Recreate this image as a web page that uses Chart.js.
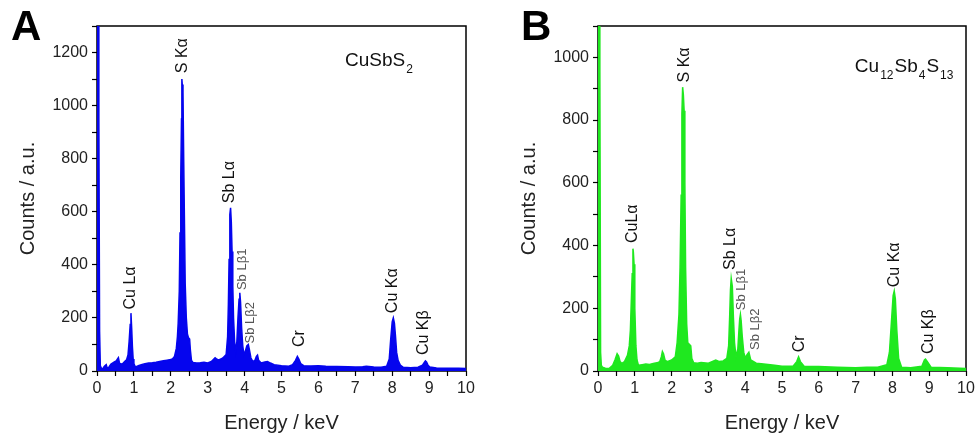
<!DOCTYPE html>
<html>
<head>
<meta charset="utf-8">
<script src="https://cdn.jsdelivr.net/npm/chart.js@4"></script>
<style>
  body { margin: 0; background: #fff; }
  .wrap { position: absolute; top: 0; }
</style>
</head>
<body>
<div class="wrap" style="left:0"><canvas id="chartA" width="490" height="439"></canvas></div>
<div class="wrap" style="left:490px"><canvas id="chartB" width="489" height="439"></canvas></div>
<script>
// EDX spectrum A: CuSbS2 (energy in keV, counts)
var energyA = [
  0, 0.03, 0.05, 0.07, 0.09, 0.12, 0.15, 0.2, 0.25, 0.28, 0.32, 0.38, 0.42, 0.47, 0.52, 0.56, 0.58, 0.61, 0.65,
  0.7, 0.75, 0.8, 0.84, 0.87, 0.9, 0.92, 0.94, 0.96, 0.98, 1.0, 1.03, 1.07, 1.12, 1.2, 1.3, 1.4, 1.5, 1.6, 1.7,
  1.8, 1.9, 2.0, 2.05, 2.1, 2.15, 2.18, 2.2, 2.23, 2.25, 2.27, 2.29, 2.3, 2.31, 2.33, 2.35, 2.37, 2.39, 2.42,
  2.45, 2.48, 2.51, 2.53, 2.56, 2.6, 2.7, 2.8, 2.9, 3.0, 3.1, 3.2, 3.25, 3.3, 3.4, 3.45, 3.5, 3.54, 3.56,
  3.58, 3.6, 3.62, 3.64, 3.66, 3.68, 3.7, 3.73, 3.76, 3.79, 3.82, 3.85, 3.87, 3.89, 3.92, 3.95, 3.98, 4.02, 4.06, 4.1,
  4.13, 4.17, 4.22, 4.28, 4.32, 4.35, 4.38, 4.45, 4.55, 4.62, 4.7, 4.8, 5.0, 5.2, 5.3, 5.38, 5.43, 5.47, 5.52, 5.6, 5.8,
  6.0, 6.2, 6.5, 6.8, 7.0, 7.2, 7.3, 7.5, 7.7, 7.85, 7.92, 7.96, 8.0, 8.03, 8.06, 8.09, 8.12, 8.16, 8.22, 8.3,
  8.5, 8.7, 8.82, 8.87, 8.9, 8.93, 8.97, 9.02, 9.2, 9.5, 9.8, 10
];
var countsA = [
  1400, 1400, 960, 150, 20, 10, 8, 18, 24, 10, 14, 26, 30, 34, 38, 46, 50, 30, 26,
  28, 36, 42, 60, 110, 175, 218, 160, 90, 45, 28, 18, 16, 20, 24, 27, 30, 31, 33, 36,
  39, 41, 43, 46, 55, 85, 130, 180, 300, 520, 730, 950, 1100, 1080, 1050, 790, 560, 330, 200,
  140, 125, 120, 80, 40, 32, 30, 31, 33, 30, 36, 50, 44, 42, 48, 55, 62, 130, 250,
  420, 590, 615, 560, 450, 320, 200, 110, 75, 110, 200, 270, 295, 260, 160, 95, 62, 75, 95, 100,
  80, 50, 36, 40, 55, 60, 40, 30, 34, 36, 30, 24, 20, 18, 24, 40, 55, 45, 28, 20, 19,
  20, 18, 17, 16, 15, 16, 18, 15, 14, 18, 45, 120, 185, 200, 180, 130, 70, 40, 22, 14,
  12, 14, 22, 32, 38, 34, 22, 15, 11, 10, 10, 9
];

// EDX spectrum B: Cu12Sb4S13
var energyB = [
  0, 0.03, 0.05, 0.07, 0.09, 0.12, 0.2, 0.3, 0.4, 0.46, 0.52, 0.56, 0.6, 0.65, 0.72, 0.8, 0.85, 0.88, 0.91,
  0.93, 0.95, 0.96, 0.98, 1.0, 1.03, 1.06, 1.1, 1.2, 1.3, 1.4, 1.5, 1.6, 1.68, 1.72, 1.75, 1.78, 1.82, 1.88,
  2.0, 2.1, 2.15, 2.2, 2.23, 2.26, 2.28, 2.3, 2.32, 2.34, 2.36, 2.38, 2.41, 2.44, 2.48, 2.52, 2.55, 2.6, 2.7,
  2.8, 3.0, 3.2, 3.3, 3.4, 3.5, 3.55, 3.58, 3.6, 3.62, 3.65, 3.68, 3.71, 3.75, 3.8, 3.83, 3.85, 3.87, 3.89, 3.92,
  3.96, 4.0, 4.05, 4.1, 4.15, 4.3, 4.5, 4.8, 5.0, 5.3, 5.4, 5.45, 5.5, 5.6, 6.0, 6.5, 7.0, 7.3, 7.6, 7.85, 7.92,
  7.97, 8.02, 8.05, 8.08, 8.12, 8.17, 8.25, 8.5, 8.8, 8.87, 8.9, 8.95, 9.05, 9.5, 10
];
var countsB = [
  1300, 1300, 960, 60, 18, 12, 9, 8, 18, 35, 55, 48, 30, 24, 30, 50, 80, 130, 240,
  310, 390, 380, 340, 200, 80, 35, 18, 20, 22, 21, 24, 26, 30, 45, 62, 55, 35, 30,
  35, 45, 90, 180, 330, 560, 820, 905, 880, 830, 600, 330, 150, 90, 85, 80, 40, 26, 25,
  27, 25, 35, 30, 32, 40, 80, 180, 260, 295, 270, 170, 90, 45, 70, 130, 165, 180, 160, 110,
  60, 42, 52, 60, 35, 25, 22, 18, 15, 15, 30, 45, 30, 15, 14, 12, 10, 12, 12, 20, 60,
  150, 240, 255, 230, 130, 40, 12, 10, 15, 35, 38, 30, 12, 10, 8
];

// peak labels: text, energy (keV), count where the label starts, small grey font
var peakTextA = ['Cu L\u03b1', 'S K\u03b1', 'Sb L\u03b1', 'Sb L\u03b21', 'Sb L\u03b22', 'Cr', 'Cu K\u03b1', 'Cu K\u03b2'];
var peakEnergyA = [0.92, 2.33, 3.6, 3.93, 4.17, 5.5, 8.0, 8.86];
var peakCountA = [232, 1122, 632, 305, 104, 90, 218, 60];
var peakSmallA = [false, false, false, true, true, false, false, false];

var peakTextB = ['CuL\u03b1', 'S K\u03b1', 'Sb L\u03b1', 'Sb L\u03b21', 'Sb L\u03b22', 'Cr', 'Cu K\u03b1', 'Cu K\u03b2'];
var peakEnergyB = [0.95, 2.34, 3.59, 3.91, 4.27, 5.49, 8.07, 8.97];
var peakCountB = [408, 920, 322, 194, 67, 60, 267, 54];
var peakSmallB = [false, false, false, true, true, false, false, false];

// sample formula, [text, subscript] pieces
var formulaA = [['CuSbS', '2']];
var formulaB = [['Cu', '12'], ['Sb', '4'], ['S', '13']];

var FONT = 'Arial, "Liberation Sans", sans-serif';

function points(xs, ys) {
  return xs.map(function (x, i) { return { x: x, y: ys[i] }; });
}

var annotatePlugin = {
  id: 'annotate',
  beforeDatasetsDraw: function (chart) {
    // frame under the spectrum, like the original
    var ctx = chart.ctx;
    var area = chart.chartArea;
    ctx.save();
    ctx.strokeStyle = '#000';
    ctx.lineWidth = 1.5;
    ctx.strokeRect(area.left, area.top, area.right - area.left, area.bottom - area.top);
    ctx.restore();
  },
  afterDraw: function (chart) {
    var o = chart.options.plugins.annotate;
    var ctx = chart.ctx;
    var xs = chart.scales.x, ys = chart.scales.y;

    // peak labels
    o.texts.forEach(function (t, i) {
      var px = xs.getPixelForValue(o.energies[i]);
      var py = ys.getPixelForValue(o.counts[i]);
      ctx.save();
      ctx.translate(px, py);
      ctx.rotate(-Math.PI / 2);
      ctx.textAlign = 'left';
      ctx.textBaseline = 'middle';
      ctx.font = (o.small[i] ? '13px ' : '16px ') + FONT;
      ctx.fillStyle = o.small[i] ? '#555' : '#111';
      ctx.fillText(t, 0, 0);
      ctx.restore();
    });

    // formula with subscripts
    ctx.save();
    var fx = xs.getPixelForValue(o.formulaAt[0]);
    var fy = ys.getPixelForValue(o.formulaAt[1]);
    ctx.textBaseline = 'alphabetic';
    ctx.textAlign = 'left';
    ctx.fillStyle = '#111';
    o.formula.forEach(function (p) {
      ctx.font = '19px ' + FONT;
      ctx.fillText(p[0], fx, fy);
      fx += ctx.measureText(p[0]).width + 1;
      ctx.font = '12px ' + FONT;
      ctx.fillText(p[1], fx, fy + 7);
      fx += ctx.measureText(p[1]).width + 1;
    });
    ctx.restore();

    // panel letter
    ctx.save();
    ctx.font = 'bold 42px ' + FONT;
    ctx.fillStyle = '#000';
    ctx.textBaseline = 'alphabetic';
    ctx.fillText(o.letter, o.letterX, 40);
    ctx.restore();
  }
};

function makeChart(id, opts) {
  return new Chart(document.getElementById(id).getContext('2d'), {
    type: 'line',
    data: {
      datasets: [{
        data: points(opts.energy, opts.counts),
        borderColor: opts.color,
        backgroundColor: opts.color,
        borderWidth: 1.5,
        pointRadius: 0,
        tension: 0,
        fill: 'origin',
        clip: { left: 2, top: 0, right: 0, bottom: 1 }
      }]
    },
    options: {
      responsive: false,
      animation: false,
      layout: { padding: { left: opts.padLeft, right: opts.padRight, top: 26, bottom: 0 } },
      plugins: {
        legend: { display: false },
        tooltip: { enabled: false },
        annotate: {
          texts: opts.labels, energies: opts.labelE, counts: opts.labelC, small: opts.labelSmall,
          formula: opts.formula, formulaAt: opts.formulaAt,
          letter: opts.letter, letterX: opts.letterX
        }
      },
      scales: {
        x: {
          type: 'linear',
          min: 0, max: 10,
          afterFit: function (s) { s.height = 68; },
          ticks: {
            stepSize: 0.5, autoSkip: false, maxRotation: 0, padding: 3,
            color: '#222', font: { family: FONT, size: 16 },
            callback: function (v) { return Number.isInteger(v) ? v : ''; }
          },
          grid: { drawOnChartArea: false, tickLength: 5, tickColor: '#000', tickWidth: 1.2 },
          border: { display: false },
          title: { display: true, text: 'Energy / keV', color: '#222', font: { family: FONT, size: 20 }, padding: { top: 4 } }
        },
        y: {
          min: 0, max: opts.yMax,
          afterFit: function (s) { s.width = 97; },
          ticks: {
            stepSize: 100, autoSkip: false, padding: 4,
            color: '#222', font: { family: FONT, size: 16 },
            callback: function (v) { return v % 200 === 0 ? v : ''; }
          },
          grid: { drawOnChartArea: false, tickLength: 5, tickColor: '#000', tickWidth: 1.2 },
          border: { display: false },
          title: { display: true, text: 'Counts / a.u.', color: '#222', font: { family: FONT, size: 20 }, padding: { top: 16, bottom: 0 } }
        }
      }
    },
    plugins: [annotatePlugin]
  });
}

makeChart('chartA', {
  energy: energyA, counts: countsA, color: '#0505ee', yMax: 1300,
  labels: peakTextA, labelE: peakEnergyA, labelC: peakCountA, labelSmall: peakSmallA,
  formula: formulaA, formulaAt: [6.72, 1151],
  letter: 'A', letterX: 11, padLeft: 0, padRight: 24
});

makeChart('chartB', {
  energy: energyB, counts: countsB, color: '#1fe81f', yMax: 1100,
  labels: peakTextB, labelE: peakEnergyB, labelC: peakCountB, labelSmall: peakSmallB,
  formula: formulaB, formulaAt: [6.98, 952],
  letter: 'B', letterX: 31, padLeft: 11, padRight: 13
});
</script>
</body>
</html>
